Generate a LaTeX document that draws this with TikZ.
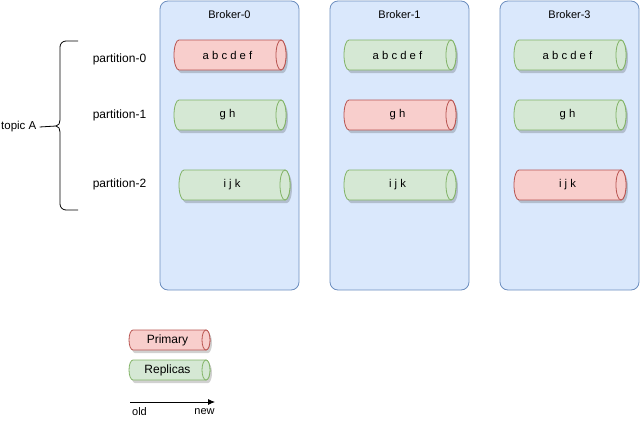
\documentclass[tikz,border=0pt]{standalone}
\usepackage{fontspec}
\setmainfont{Liberation Sans}
\usetikzlibrary{arrows.meta}
\definecolor{bfill}{HTML}{DAE8FC}
\definecolor{bline}{HTML}{6C8EBF}
\definecolor{rfill}{HTML}{F8CECC}
\definecolor{rline}{HTML}{B85450}
\definecolor{gfill}{HTML}{D5E8D4}
\definecolor{gline}{HTML}{82B366}
\tikzset{
  broker/.style={draw=bline, fill=bfill, rounded corners=8pt, line width=0.8pt},
  pcyl/.style={draw=rline, fill=rfill, line width=0.8pt},
  gcyl/.style={draw=gline, fill=gfill, line width=0.8pt},
  cyltext/.style={font=\fontsize{11.3}{13}\selectfont, inner sep=0pt},
  lbl/.style={font=\fontsize{11}{13}\selectfont, inner sep=0pt},
  plbl/.style={font=\fontsize{12}{14}\selectfont, inner sep=0pt},
}
% #1 name, #2 x, #3 y, #4 width, #5 height, #6 rx, #7 style, #8 text, #9 font style
\newcommand\cylnode[9]{%
\begin{scope}[shift={(#2,#3)}]
  \fill[black,opacity=0.18,shift={(2,3)}] (#6,0) -- ({#4-#6},0)
    arc[start angle=90,end angle=-90,x radius=#6pt,y radius={#5/2*1pt}] -- (#6,#5)
    arc[start angle=270,end angle=90,x radius=#6pt,y radius={#5/2*1pt}] -- cycle;
  \path[#7] (#6,0) -- ({#4-#6},0)
    arc[start angle=90,end angle=-90,x radius=#6pt,y radius={#5/2*1pt}] -- (#6,#5)
    arc[start angle=270,end angle=90,x radius=#6pt,y radius={#5/2*1pt}] -- cycle;
  \draw[#7] ({#4-#6},{#5/2}) ellipse[x radius=#6pt, y radius={#5/2*1pt}];
  \node[#9] (#1) at ({(#4-#6)/2},{#5/2}) {#8};
\end{scope}}
\begin{document}
\begin{tikzpicture}[x=1pt,y=-1pt]
\useasboundingbox (0,0) rectangle (640,426);
% brokers
\draw[broker] (160,1) rectangle (299,290);
\draw[broker] (330,1) rectangle (469,290);
\draw[broker] (500,1) rectangle (639,290);
\node[lbl] (b0) at (229.5,15) {Broker-0};
\node[lbl] (b1) at (399.5,15) {Broker-1};
\node[lbl] (b3) at (569.5,15) {Broker-3};
% partitions row 0
\cylnode{c00}{174}{40}{112}{30}{5}{pcyl}{a b c d e f}{cyltext}
\cylnode{c01}{344}{40}{112}{30}{5}{gcyl}{a b c d e f}{cyltext}
\cylnode{c03}{514}{40}{112}{30}{5}{gcyl}{a b c d e f}{cyltext}
% row 1
\cylnode{c10}{174}{100}{112}{30}{5}{gcyl}{g h}{cyltext}
\cylnode{c11}{344}{100}{112}{30}{5}{pcyl}{g h}{cyltext}
\cylnode{c13}{514}{100}{112}{30}{5}{gcyl}{g h}{cyltext}
% row 2
\cylnode{c20}{179}{170}{111}{30}{5}{gcyl}{i j k}{cyltext}
\cylnode{c21}{344}{170}{112}{30}{5}{gcyl}{i j k}{cyltext}
\cylnode{c23}{514}{170}{112}{30}{5}{pcyl}{i j k}{cyltext}
% partition labels
\node[plbl] (p0) at (119.5,59) {partition-0};
\node[plbl] (p1) at (119.5,115) {partition-1};
\node[plbl] (p2) at (119.5,184) {partition-2};
% brace
\coordinate (tip) at (56,126);
\draw[line width=0.8pt] (78,41) -- (66,41) to[out=180,in=90] (60,47) -- (60,120)
  to[out=-90,in=0] (tip) to[out=0,in=90] (60,132) -- (60,204)
  to[out=-90,in=180] (66,210) -- (78,210);
\node[lbl, font=\fontsize{11.5}{13}\selectfont, anchor=west] (topic) at (1,127) {topic A};
\draw[line width=0.8pt] (topic.east) ++(3,0) coordinate (tl) (tl) -- (tip);
% legend
\cylnode{lp}{129}{330}{81}{20}{4}{pcyl}{Primary}{plbl}
\cylnode{lr}{129}{360}{81}{20}{4}{gcyl}{Replicas}{plbl}
\coordinate (ao) at (130,402);
\coordinate (an) at (215,402);
\draw[line width=0.8pt,-{Latex[length=7pt,width=6pt]}] (ao) -- (an);
\node[lbl] (old) at (139.5,412) {old};
\node[lbl] (new) at (204.5,412) {new};
\end{tikzpicture}
\end{document}
